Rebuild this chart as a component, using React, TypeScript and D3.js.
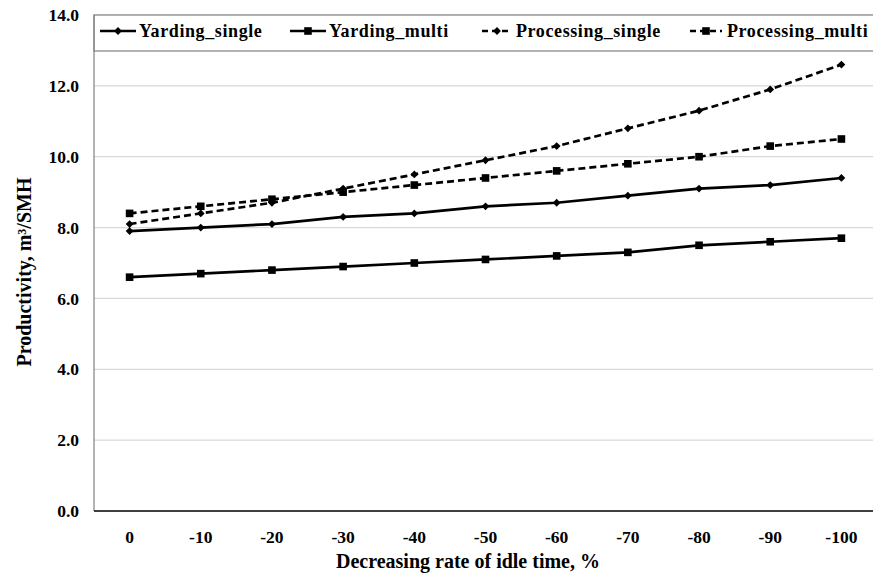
import React from "react";
import * as d3 from "d3";

const categories = ["0", "-10", "-20", "-30", "-40", "-50", "-60", "-70", "-80", "-90", "-100"];
const yardingSingle = [7.9, 8.0, 8.1, 8.3, 8.4, 8.6, 8.7, 8.9, 9.1, 9.2, 9.4];
const yardingMulti = [6.6, 6.7, 6.8, 6.9, 7.0, 7.1, 7.2, 7.3, 7.5, 7.6, 7.7];
const processingSingle = [8.1, 8.4, 8.7, 9.1, 9.5, 9.9, 10.3, 10.8, 11.3, 11.9, 12.6];
const processingMulti = [8.4, 8.6, 8.8, 9.0, 9.2, 9.4, 9.6, 9.8, 10.0, 10.3, 10.5];
const yTicks = [0, 2, 4, 6, 8, 10, 12, 14];

const seriesList = [
  { name: "Yarding_single", values: yardingSingle, dashed: false, marker: "diamond" },
  { name: "Yarding_multi", values: yardingMulti, dashed: false, marker: "square" },
  { name: "Processing_single", values: processingSingle, dashed: true, marker: "diamond" },
  { name: "Processing_multi", values: processingMulti, dashed: true, marker: "square" },
];

const legendPos = [
  { lx: 100, len: 36, tx: 139 },
  { lx: 290, len: 36, tx: 329 },
  { lx: 482, len: 30, tx: 516 },
  { lx: 690, len: 32, tx: 727 },
];

const W = 873;
const H = 575;
const left = 94;
const right = 877;
const top = 15;
const bottom = 511;
const font = "Liberation Serif, DejaVu Serif, serif";

function Marker({ x, y, type }: { x: number; y: number; type: string }) {
  if (type === "square") {
    return <rect x={x - 3.8} y={y - 3.8} width={7.6} height={7.6} fill="#000" />;
  }
  const r = 3.9;
  return (
    <path
      d={`M${x},${y - r}L${x + r},${y}L${x},${y + r}L${x - r},${y}Z`}
      fill="#000"
    />
  );
}

export default function App() {
  const x = d3.scalePoint<string>().domain(categories).range([left, right]).padding(0.5);
  const y = d3.scaleLinear().domain([0, 14]).range([bottom, top]);
  const line = d3
    .line<number>()
    .x((_, i) => x(categories[i]) as number)
    .y((d) => y(d));

  return (
    <svg width={W} height={H} style={{ position: "absolute", left: 0, top: 0, background: "#fff", fontFamily: font }}>
      <rect x={0} y={0} width={W} height={H} fill="#fff" />
      {yTicks.map((t) => (
        <g key={t}>
          {t > 0 && (
            <line x1={left} x2={W} y1={y(t)} y2={y(t)} stroke="#d9d9d9" strokeWidth={1.2} />
          )}
          <text x={79} y={y(t)} dy="0.35em" textAnchor="end" fontSize={17.5} fontWeight="bold">
            {t.toFixed(1)}
          </text>
        </g>
      ))}
      {/* legend box */}
      <rect x={left} y={top} width={W - left + 2} height={36} fill="#fff" stroke="#808080" strokeWidth={1.2} />
      <line x1={left} x2={left} y1={top} y2={bottom} stroke="#808080" strokeWidth={1.2} />
      <line x1={left} x2={W} y1={bottom} y2={bottom} stroke="#000" strokeWidth={1.5} />
      {seriesList.map((s) => (
        <g key={s.name}>
          <path
            d={line(s.values) || ""}
            fill="none"
            stroke="#000"
            strokeWidth={2.7}
            strokeDasharray={s.dashed ? "7,4" : undefined}
          />
          {s.values.map((v, i) => (
            <Marker key={i} x={x(categories[i]) as number} y={y(v)} type={s.marker} />
          ))}
        </g>
      ))}
      {seriesList.map((s, i) => {
        const p = legendPos[i];
        const ly = 31;
        return (
          <g key={s.name}>
            <line
              x1={p.lx}
              x2={p.lx + p.len}
              y1={ly}
              y2={ly}
              stroke="#000"
              strokeWidth={2.7}
              strokeDasharray={s.dashed ? "6,4" : undefined}
            />
            <Marker x={p.lx + p.len / 2} y={ly} type={s.marker} />
            <text x={p.tx} y={ly} dy="0.35em" fontSize={18} fontWeight="bold" letterSpacing={0.6}>
              {s.name}
            </text>
          </g>
        );
      })}
      {categories.map((c) => (
        <text key={c} x={x(c) as number} y={537} dy="0.35em" textAnchor="middle" fontSize={17.5} fontWeight="bold">
          {c}
        </text>
      ))}
      <text x={468} y={561} dy="0.35em" textAnchor="middle" fontSize={20} fontWeight="bold">
        Decreasing rate of idle time, %
      </text>
      <text
        transform={`translate(24,272) rotate(-90)`}
        textAnchor="middle"
        dominantBaseline="central"
        fontSize={20}
        fontWeight="bold"
      >
        Productivity, m³/SMH
      </text>
    </svg>
  );
}
